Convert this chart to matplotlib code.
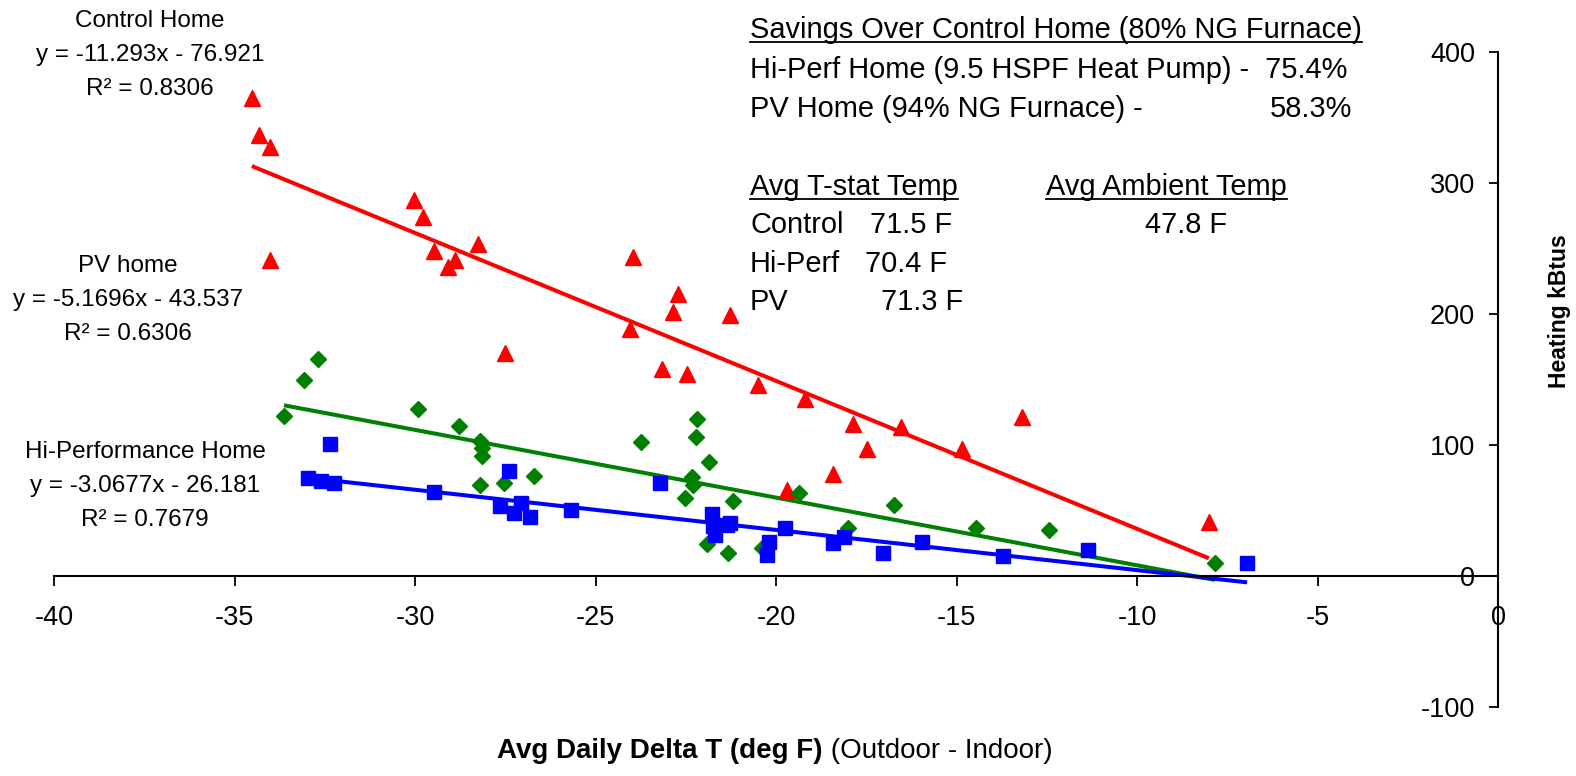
import numpy as np
import matplotlib
matplotlib.use('Agg')
import matplotlib.pyplot as plt
from matplotlib.lines import Line2D

# Control home (80% NG furnace)
control_x = [-34.52, -34.32, -34.02, -34.02, -30.03, -29.78, -29.47, -29.09, -28.89, -28.25,
             -27.51, -23.96, -22.71, -22.85, -21.27, -24.04, -23.16, -22.46, -20.50, -19.20,
             -17.87, -16.54, -17.48, -14.85, -18.42, -19.70, -13.19, -8.01]
control_y = [364.7, 336.4, 327.3, 241.0, 287.0, 273.8, 247.9, 235.6, 241.0, 253.2,
             170.0, 243.3, 215.0, 201.3, 199.0, 188.3, 157.8, 154.0, 145.6, 134.9,
             115.8, 113.5, 96.7, 96.7, 77.6, 65.4, 121.4, 41.2]

# PV home (94% NG furnace)
pv_x = [-32.69, -33.07, -33.63, -29.92, -28.78, -28.20, -28.14, -28.14, -28.20, -27.53,
        -26.70, -23.74, -22.19, -22.22, -22.33, -22.30, -22.52, -21.86, -21.19, -21.91,
        -21.33, -20.39, -19.36, -16.73, -18.01, -14.46, -12.43, -7.84]
pv_y = [165.4, 149.4, 121.9, 127.3, 114.3, 102.8, 97.5, 91.4, 69.2, 70.7,
        76.1, 102.0, 119.6, 105.9, 75.3, 69.2, 59.3, 86.8, 57.0, 24.2,
        17.3, 21.1, 63.1, 53.9, 36.4, 36.4, 34.9, 10.2]

# Hi-performance home (heat pump)
hiperf_x = [-32.35, -32.96, -32.60, -32.24, -29.47, -27.40, -27.65, -27.06, -27.26, -26.81,
            -25.68, -23.21, -21.77, -21.36, -21.75, -21.69, -21.27, -20.19, -20.25, -19.75,
            -18.42, -18.12, -17.04, -15.96, -13.70, -11.36, -6.95]
hiperf_y = [100.5, 74.6, 72.3, 70.8, 63.9, 79.9, 53.2, 55.5, 47.9, 44.8,
            50.2, 70.8, 47.1, 38.7, 38.0, 31.1, 40.2, 25.7, 15.8, 36.4,
            24.9, 29.5, 17.3, 25.7, 15.3, 19.6, 10.2]

# linear trendlines (slope, intercept) and R^2
control_fit = [-11.293, -76.921, 0.8306]
pv_fit = [-5.1696, -43.537, 0.6306]
hiperf_fit = [-3.0677, -26.181, 0.7679]

x_ticks = [-40, -35, -30, -25, -20, -15, -10, -5, 0]
y_ticks = [-100, 0, 100, 200, 300, 400]

W, H = 1576, 776
plt.rcParams['font.family'] = ['Liberation Sans', 'DejaVu Sans']
plt.rcParams['axes.unicode_minus'] = False

fig = plt.figure(figsize=(W / 100, H / 100), dpi=100)
ax = fig.add_axes([54 / W, 1 - 707 / H, (1498 - 54) / W, (707 - 52) / H])
ax.set_xlim(-40, 0)
ax.set_ylim(-100, 400)

series = [
    (control_x, control_y, control_fit, '#ff0000', '^', 11.5),
    (pv_x, pv_y, pv_fit, '#008000', 'D', 8.2),
    (hiperf_x, hiperf_y, hiperf_fit, '#0000ff', 's', 10),
]
for xs, ys, fit, col, mk, ms in series:
    ax.plot(xs, ys, linestyle='none', marker=mk, markersize=ms, color=col, zorder=3)
    xl = np.array([min(xs), max(xs)])
    ax.plot(xl, fit[0] * xl + fit[1], color=col, lw=2.9, zorder=2, solid_capstyle='butt')

# axes: y axis sits at x=0, x axis sits at y=0
for s in ['top', 'right']:
    ax.spines[s].set_visible(False)
ax.spines['left'].set_position(('data', 0))
ax.spines['bottom'].set_position(('data', 0))
for s in ['left', 'bottom']:
    ax.spines[s].set_linewidth(1.5)
ax.set_xticks(x_ticks)
ax.set_yticks(y_ticks)
ax.tick_params(axis='x', direction='out', length=7, width=1.3, pad=14, labelsize=19.5)
ax.tick_params(axis='y', direction='out', length=6.5, width=1.3, pad=10, labelsize=19.5)

ax.set_ylabel('Heating kBtus', fontweight='bold', fontsize=16.5)
ax.yaxis.set_label_position('right')
ax.yaxis.set_label_coords((1548 - 54) / 1444, (707 - 311) / 655)


def ftext(x, y, s, **kw):
    # x, y in pixels from the top-left, y is the baseline
    return fig.text(x / W, 1 - y / H, s, va='baseline', **kw)


# x axis title: bold part + normal part, centred under the axis
t1 = ftext(480, 758, 'Avg Daily Delta T (deg F)', fontweight='bold', fontsize=20)
t2 = ax.annotate(' (Outdoor - Indoor)', xy=(1, 0), xycoords=t1, va='bottom', ha='left',
                 fontsize=20, annotation_clip=False)

# trendline labels
fit_labels = [
    ('Control Home', control_fit, 150, 27),
    ('PV home', pv_fit, 128, 272),
    ('Hi-Performance Home', hiperf_fit, 145, 458),
]
for name, fit, cx, by in fit_labels:
    ftext(cx, by, name, ha='center', fontsize=17.5)
    ftext(cx, by + 34, f'y = {fit[0]}x - {abs(fit[1])}', ha='center', fontsize=17.5)
    ftext(cx, by + 68, f'R² = {fit[2]}', ha='center', fontsize=17.5)

# summary text block
fs = 20.9
u1 = ftext(750, 38, 'Savings Over Control Home (80% NG Furnace)', fontsize=fs)
ftext(750, 78, 'Hi-Perf Home (9.5 HSPF Heat Pump) -  75.4%', fontsize=fs)
ftext(750, 117, 'PV Home (94% NG Furnace) -', fontsize=fs)
ftext(1270, 117, '58.3%', fontsize=fs)
u2 = ftext(750, 195, 'Avg T-stat Temp', fontsize=fs)
u3 = ftext(1046, 195, 'Avg Ambient Temp', fontsize=fs)
ftext(750, 233, 'Control', fontsize=fs)
ftext(870, 233, '71.5 F', fontsize=fs)
ftext(1145, 233, '47.8 F', fontsize=fs)
ftext(750, 272, 'Hi-Perf', fontsize=fs)
ftext(865, 272, '70.4 F', fontsize=fs)
ftext(750, 310, 'PV', fontsize=fs)
ftext(881, 310, '71.3 F', fontsize=fs)

fig.canvas.draw()
renderer = fig.canvas.get_renderer()

# centre the two-part x title on x = 775 px
b1 = t1.get_window_extent(renderer)
b2 = t2.get_window_extent(renderer)
width = b2.x1 - b1.x0
t1.set_x((775 - width / 2) / W)

# underline the headings
for t, y in [(u1, 42), (u2, 199), (u3, 199)]:
    bb = t.get_window_extent(renderer)
    fig.add_artist(Line2D([bb.x0 / W, bb.x1 / W], [1 - y / H] * 2,
                          transform=fig.transFigure, color='black', lw=1.3))

fig.savefig('out.png', dpi=100)
